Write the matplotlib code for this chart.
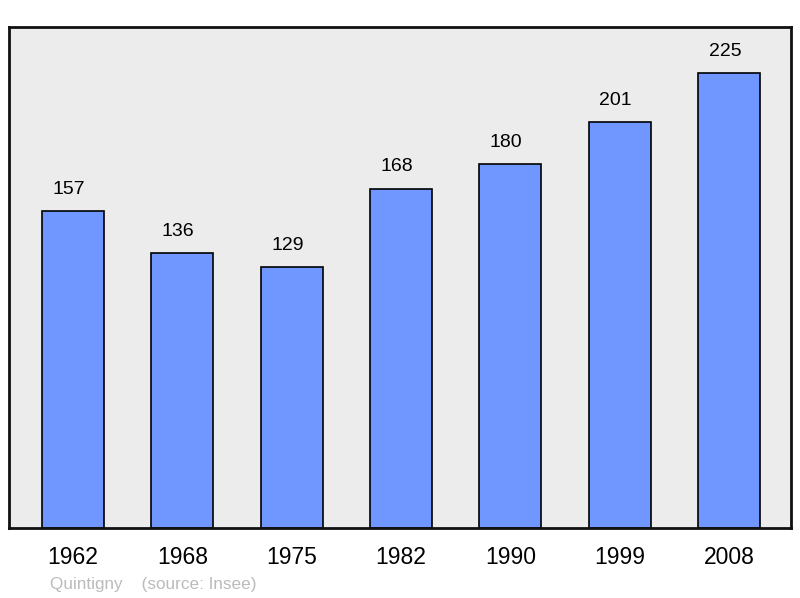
import matplotlib
matplotlib.use("Agg")
import matplotlib.pyplot as plt

years = ["1962", "1968", "1975", "1982", "1990", "1999", "2008"]
population = [157, 136, 129, 168, 180, 201, 225]
commune = "Quintigny"
source = "(source: Insee)"

plt.rcParams['font.family'] = ['Liberation Sans', 'DejaVu Sans']

fig = plt.figure(figsize=(8, 5.98), dpi=100)
ax = fig.add_axes([9/800, 70/598, 782/800, 501/598])
ax.set_facecolor('#ececec')

x = list(range(len(years)))
ax.bar(x, population, width=0.567, color='#7096ff', edgecolor='black', linewidth=1.2, zorder=2)
for xi, v in zip(x, population):
    ax.annotate(str(v), (xi, v), xytext=(-3, 9.5), textcoords='offset points',
                ha='center', va='bottom', fontsize=14)

ax.set_xlim(-0.585, 6.567)
ax.set_ylim(0, 248)
ax.set_xticks(x)
ax.set_xticklabels(years, fontsize=16.5)
ax.tick_params(axis='x', length=0, pad=13)
ax.set_yticks([])
for s in ax.spines.values():
    s.set_linewidth(2)
    s.set_color('#111111')

fig.text(50/800, 1 - 584/598, commune + "    " + source, color='#bbbbbb', fontsize=12.3,
         ha='left', va='center')

fig.savefig('out.png', dpi=100, facecolor='white')
